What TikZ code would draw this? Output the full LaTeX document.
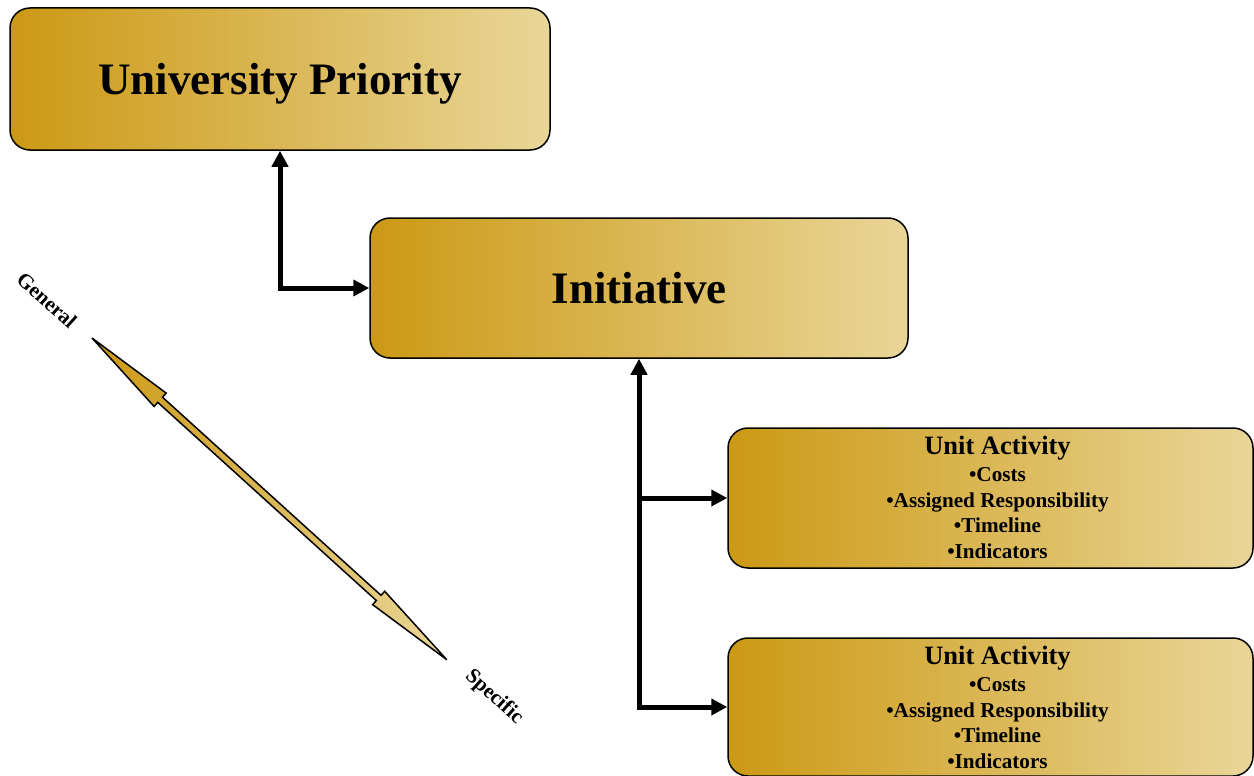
\documentclass[tikz,border=0pt]{standalone}
\usepackage{fontspec}
\setmainfont{Liberation Serif}
\usetikzlibrary{arrows.meta}
\definecolor{golddark}{RGB}{204,153,20}
\definecolor{goldlight}{RGB}{233,214,152}
\begin{document}
\begin{tikzpicture}[x=1pt,y=-1pt,
  >={Triangle[length=16pt,width=16pt]},
  box/.style={draw=black, line width=1.5pt, rounded corners=20pt,
    left color=golddark, right color=goldlight, inner sep=0pt,
    align=center},
  bigbox/.style={box, text depth=0pt, font=\bfseries\fontsize{45}{50}\selectfont},
  unitbox/.style={box, minimum width=525pt},
  unittext/.style={align=center, inner sep=0pt,
    font=\bfseries\fontsize{21.2}{25.5}\selectfont},
  conn/.style={line width=5pt, draw=black},
  lbl/.style={font=\bfseries\fontsize{21}{24}\selectfont, inner sep=0pt}]
\useasboundingbox (0,0) rectangle (1254,776);

% hierarchy boxes
\node[bigbox, minimum width=540pt, minimum height=142pt] (prio) at (280,79)
  {University Priority};
\node[bigbox, minimum width=538pt, minimum height=140pt] (init) at (639,288)
  {Initiative};
\node[unitbox, minimum height=140pt] (ua1) at (990.5,498) {};
\node[unitbox, minimum height=138pt] (ua2) at (990.5,707) {};
\node[unittext] (ua1txt) at (997.5,497)
  {{\fontsize{26.5}{28}\selectfont Unit Activity}\\[2pt]
   •Costs\\ •Assigned Responsibility\\ •Timeline\\ •Indicators};
\node[unittext] (ua2txt) at (997.5,707)
  {{\fontsize{26.5}{28}\selectfont Unit Activity}\\[2pt]
   •Costs\\ •Assigned Responsibility\\ •Timeline\\ •Indicators};

% connectors
\draw[conn,<->] (prio.south) |- (init.west);
\draw[conn,<->] (init.south) |- (ua2.west);
\draw[conn,->] (init.south |- ua1.west) -- (ua1.west);

% general-to-specific double block arrow
\coordinate (gen) at (92,338);
\coordinate (spec) at (447,660);
\begin{scope}[shift={(gen)}, rotate=-42.2]
  \draw[line width=1.5pt, line join=miter, left color=golddark, right color=goldlight]
    (0,0) -- (92,9) -- (92,3.5) -- (387,3.5) -- (387,9) -- (479,0)
    -- (387,-9) -- (387,-3.5) -- (92,-3.5) -- (92,-9) -- cycle;
\end{scope}
\node[lbl, rotate=-42] (genlbl) at (47,300) {General};
\node[lbl, rotate=-42] (speclbl) at (494,697) {Specific};
\end{tikzpicture}
\end{document}
